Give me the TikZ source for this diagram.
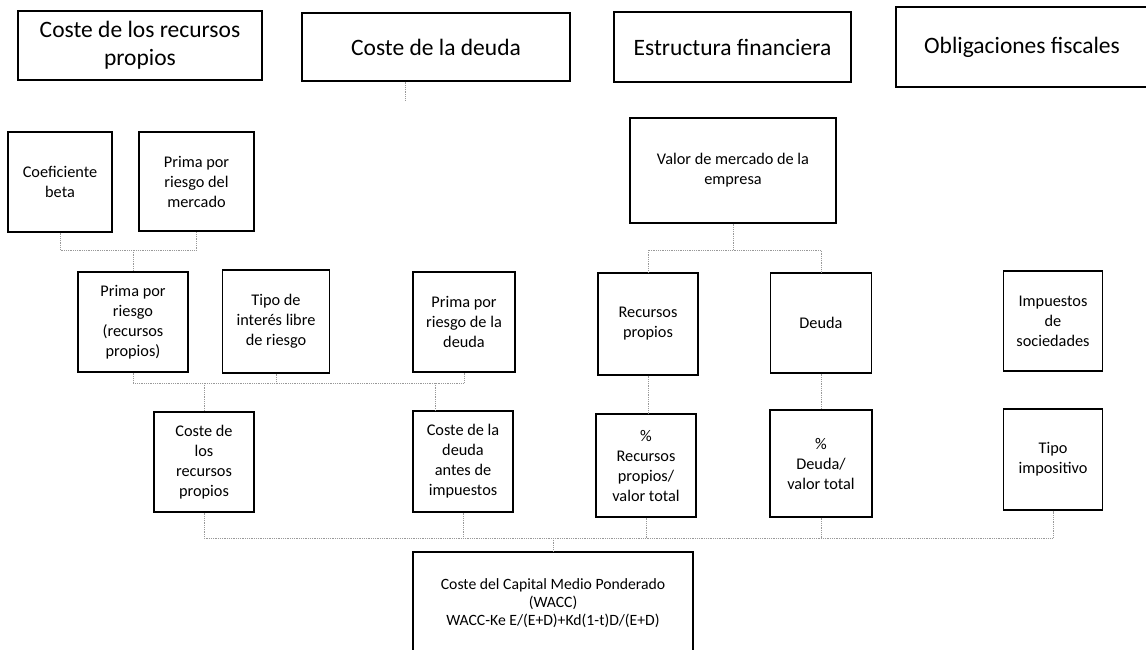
\documentclass[tikz,border=0pt]{standalone}
\usepackage{fontspec}
\setmainfont{Carlito}
\usepackage{tikz}

\begin{document}
\begin{tikzpicture}[x=1pt, y=-1pt,
	box/.style={draw, line width=1.1pt, align=center, inner sep=2pt, font=\fontsize{16.3}{20}\selectfont},
	head/.style={box, font=\fontsize{23.5}{28}\selectfont},
	sumbox/.style={box, font=\fontsize{15.7}{18}\selectfont},
	link/.style={draw=gray!80, densely dotted, line width=0.8pt}]
	\useasboundingbox (0,0) rectangle (1146,650);

	% Nodes {headers}
	\node [head, minimum width=244pt, minimum height=69pt]	(hrec)  at (140,45.5)  {Coste de los recursos\\propios};
	\node [head, minimum width=268pt, minimum height=68pt]	(hdeu)  at (436,47)    {Coste de la deuda};
	\node [head, minimum width=237pt, minimum height=70pt]	(hest)  at (732.5,47)  {Estructura financiera};
	\node [head, minimum width=252pt, minimum height=80pt]	(hfis)  at (1022,47)   {Obligaciones fiscales};

	% Nodes {inputs}
	\node [box, minimum width=104pt, minimum height=100pt]	(beta)  at (60,182)    {Coeficiente\\beta};
	\node [box, minimum width=115pt, minimum height=99pt]	(pmerc) at (196.5,181.5) {Prima por\\riesgo del\\mercado};
	\node [box, minimum width=206pt, minimum height=105pt]	(valor) at (733,170.5) {Valor de mercado de la\\empresa};

	\node [box, minimum width=110pt, minimum height=100pt]	(prp)   at (133,322)   {Prima por\\riesgo\\(recursos\\propios)};
	\node [box, minimum width=107pt, minimum height=103pt]	(libre) at (276,321.5) {Tipo de\\interés libre\\de riesgo};
	\node [box, minimum width=102pt, minimum height=100pt]	(pdeu)  at (464,322)   {Prima por\\riesgo de la\\deuda};
	\node [box, minimum width=100pt, minimum height=102pt]	(recp)  at (648,324)   {Recursos\\propios};
	\node [box, minimum width=101pt, minimum height=100pt]	(deuda) at (821,323)   {Deuda};
	\node [box, minimum width=99pt, minimum height=100pt]	(isoc)  at (1053,321)  {Impuestos\\de\\sociedades};

	\node [box, minimum width=100pt, minimum height=100pt]	(crp)   at (204,462)   {Coste de\\los\\recursos\\propios};
	\node [box, minimum width=100pt, minimum height=101pt]	(cdeu)  at (463,461.5) {Coste de la\\deuda\\antes de\\impuestos};
	\node [box, minimum width=100pt, minimum height=103pt]	(pcrp)  at (646,465.5) {\%\\Recursos\\propios/\\valor total};
	\node [box, minimum width=102pt, minimum height=107pt]	(pcd)   at (821,463.5) {\%\\Deuda/\\valor total};
	\node [box, minimum width=99pt, minimum height=101pt]	(timp)  at (1053,459.5) {Tipo\\impositivo};

	\node [sumbox, minimum width=280pt, minimum height=102pt]	(wacc) at (553,603) {Coste del Capital Medio Ponderado\\(WACC)\\WACC-Ke E/(E+D)+Kd(1-t)D/(E+D)};

	% Joints
	\coordinate (j1)   at (133,250);
	\coordinate (j2)   at (733,250);
	\coordinate (j3)   at (276,383);
	\coordinate (tap)  at (435,383);
	\coordinate (j4)   at (553,538);
	\coordinate (stub) at (405,100);

	% Paths
	\path [link] (hdeu.south -| stub) -- (stub);
	\path [link] (beta.south) |- (j1) -| (pmerc.south);
	\path [link] (j1) -- (prp.north);
	\path [link] (valor.south) -- (j2);
	\path [link] (recp.north) |- (j2) -| (deuda.north);
	\path [link] (prp.south) |- (j3) -| (pdeu.south);
	\path [link] (libre.south) -- (j3);
	\path [link] (j3 -| crp.north) -- (crp.north);
	\path [link] (tap) -- (tap |- cdeu.north);
	\path [link] (recp.south) -- (pcrp.north -| recp.south);
	\path [link] (deuda.south) -- (pcd.north);
	\path [link] (crp.south) |- (j4) -| (timp.south);
	\path [link] (cdeu.south) -- (cdeu.south |- j4);
	\path [link] (pcrp.south) -- (pcrp.south |- j4);
	\path [link] (pcd.south) -- (pcd.south |- j4);
	\path [link] (j4) -- (wacc.north);

\end{tikzpicture}
\end{document}
